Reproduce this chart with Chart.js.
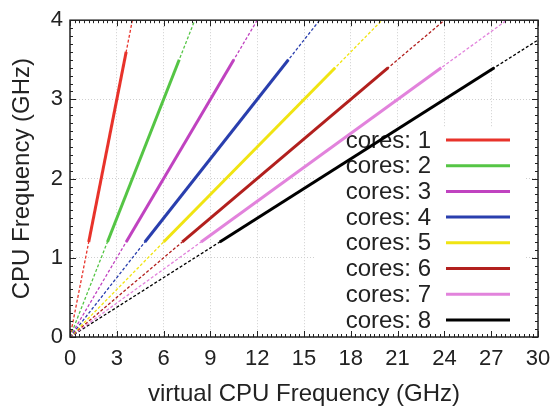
<!DOCTYPE html>
<html>
<head>
<meta charset="utf-8">
<script src="https://cdn.jsdelivr.net/npm/chart.js@4/dist/chart.umd.min.js"></script>
<style>
  html, body { margin: 0; padding: 0; background: #fff; }
  #wrap { width: 560px; height: 411px; }
</style>
</head>
<body>
<div id="wrap"><canvas id="cpu"></canvas></div>
<script>
// data
var cores = [1, 2, 3, 4, 5, 6, 7, 8];
var labels = ["cores: 1", "cores: 2", "cores: 3", "cores: 4", "cores: 5", "cores: 6", "cores: 7", "cores: 8"];
// thin dashed line from origin to plot edge
var dashEndX = [4, 8, 12, 16, 20, 24, 28, 30];
var dashEndY = [4, 4, 4, 4, 4, 4, 4, 3.75];
// thick solid part
var solidStartX = [1.2, 2.4, 3.6, 4.8, 6, 7.2, 8.4, 9.6];
var solidStartY = [1.2, 1.2, 1.2, 1.2, 1.2, 1.2, 1.2, 1.2];
var solidEndX = [3.6, 7, 10.5, 14, 17, 20.4, 23.8, 27.2];
var solidEndY = [3.6, 3.5, 3.5, 3.5, 3.4, 3.4, 3.4, 3.4];
var xTicks = [0, 3, 6, 9, 12, 15, 18, 21, 24, 27, 30];
var yTicks = [0, 1, 2, 3, 4];

var colors = ["#e8332b", "#55c545", "#c043c0", "#2a3fae", "#f0e412", "#b2201e", "#e283dc", "#000000"];

var datasets = [];
cores.forEach(function (c, i) {
	datasets.push({
		label: labels[i] + " dashed",
		data: [{ x: 0, y: 0 }, { x: dashEndX[i], y: dashEndY[i] }],
		borderColor: colors[i],
		borderWidth: 1.3,
		borderDash: [3, 2],
		pointRadius: 0,
	});
	datasets.push({
		label: labels[i],
		data: [{ x: solidStartX[i], y: solidStartY[i] }, { x: solidEndX[i], y: solidEndY[i] }],
		borderColor: colors[i],
		borderWidth: 3,
		pointRadius: 0,
	});
});

// white legend box inside the plot, lines go over it
var boxLegend = {
	id: "boxLegend",
	beforeDatasetsDraw: function (chart) {
		var c = chart.ctx;
		c.save();
		c.fillStyle = "#fff";
		c.fillRect(316, 127, 210, 206);
		c.font = "24px 'Liberation Sans', Arial, sans-serif";
		c.textAlign = "right";
		c.textBaseline = "middle";
		labels.forEach(function (t, i) {
			var y = 140 + i * 25.7;
			c.fillStyle = "#222";
			c.fillText(t, 431, y + 1);
			c.strokeStyle = colors[i];
			c.lineWidth = 3;
			c.beginPath();
			c.moveTo(446, y);
			c.lineTo(510, y);
			c.stroke();
		});
		c.restore();
	},
};

// gnuplot style frame with inward ticks on all sides
var frameTicks = {
	id: "frameTicks",
	afterDraw: function (chart) {
		var c = chart.ctx;
		var a = chart.chartArea;
		var sx = chart.scales.x, sy = chart.scales.y;
		c.save();
		c.strokeStyle = "#222";
		c.lineWidth = 1;
		var v, px, len;
		for (v = 0; v <= 30.001; v += 0.3) {
			px = Math.round(sx.getPixelForValue(v)) + 0.5;
			len = Math.abs(v / 3 - Math.round(v / 3)) < 0.01 ? 6 : 3;
			c.beginPath();
			c.moveTo(px, a.bottom); c.lineTo(px, a.bottom - len);
			c.moveTo(px, a.top); c.lineTo(px, a.top + len);
			c.stroke();
		}
		for (v = 0; v <= 4.001; v += 0.1) {
			px = Math.round(sy.getPixelForValue(v)) + 0.5;
			len = Math.abs(v - Math.round(v)) < 0.01 ? 6 : 3;
			c.beginPath();
			c.moveTo(a.left, px); c.lineTo(a.left + len, px);
			c.moveTo(a.right, px); c.lineTo(a.right - len, px);
			c.stroke();
		}
		c.lineWidth = 1.5;
		c.strokeRect(a.left, a.top, a.right - a.left, a.bottom - a.top);
		c.restore();
	},
};

var tickFont = { family: "'Liberation Sans', Arial, sans-serif", size: 22 };
var titleFont = { family: "'Liberation Sans', Arial, sans-serif", size: 24 };

var myChart_cpu = new Chart(document.getElementById("cpu").getContext("2d"), {
	type: "line",
	data: { datasets: datasets },
	options: {
		responsive: true,
		maintainAspectRatio: false,
		animation: false,
		layout: { padding: { top: 13, right: 22, left: 0, bottom: 0 } },
		plugins: { legend: { display: false }, tooltip: { enabled: false } },
		scales: {
			x: {
				type: "linear",
				min: 0,
				max: 30,
				afterFit: function (s) { s.height = 74; },
				afterBuildTicks: function (s) { s.ticks = xTicks.map(function (v) { return { value: v }; }); },
				grid: { color: "#cfcfcf", borderDash: [1, 2], drawTicks: false, lineWidth: 1 },
				border: { display: false, dash: [1, 2] },
				ticks: { color: "#222", font: tickFont, padding: 9, maxRotation: 0 },
				title: { display: true, text: "virtual CPU Frequency (GHz)", color: "#222", font: titleFont, padding: { top: 0, bottom: 2 } },
			},
			y: {
				type: "linear",
				min: 0,
				max: 4,
				afterFit: function (s) { s.width = 70; },
				afterBuildTicks: function (s) { s.ticks = yTicks.map(function (v) { return { value: v }; }); },
				grid: { color: "#cfcfcf", drawTicks: false, lineWidth: 1 },
				border: { display: false, dash: [1, 2] },
				ticks: { color: "#222", font: tickFont, padding: 7 },
				title: { display: true, text: "CPU Frequency (GHz)", color: "#222", font: titleFont, padding: { top: 8, bottom: 0 } },
			},
		},
	},
	plugins: [boxLegend, frameTicks],
});
</script>
</body>
</html>
